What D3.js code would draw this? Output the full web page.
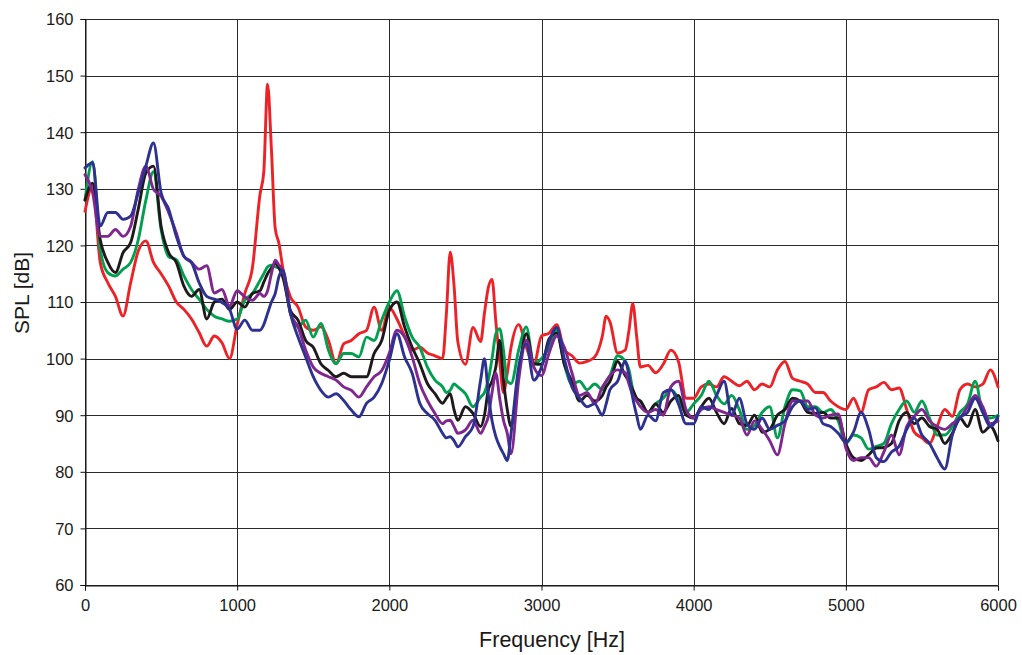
<!DOCTYPE html>
<html>
<head>
<meta charset="utf-8">
<script src="https://cdn.jsdelivr.net/npm/d3@7"></script>
<style>
  html, body { margin: 0; padding: 0; background: #fff; }
  svg { display: block; font-family: "Liberation Sans", Arial, sans-serif; }
</style>
</head>
<body>
<svg id="chart" width="1022" height="655"></svg>
<script>
// Frequencies (Hz), shared by all series
const freqs = [
  0,50,100,150,200,250,300,350,400,450,
  500,550,600,650,700,750,800,850,900,950,
  1000,1050,1100,1150,1175,1200,1225,1250,1275,1300,
  1350,1400,1450,1500,1550,1600,1650,1700,1750,1800,
  1850,1900,1950,2000,2050,2100,2150,2200,2250,2300,
  2350,2375,2400,2425,2450,2500,2550,2600,2625,2650,
  2675,2700,2725,2750,2775,2800,2850,2900,2950,3000,
  3050,3100,3150,3200,3250,3300,3350,3400,3425,3450,
  3500,3550,3575,3600,3625,3650,3700,3750,3800,3850,
  3900,3950,4000,4050,4100,4150,4200,4250,4300,4350,
  4400,4450,4500,4550,4600,4650,4700,4750,4800,4850,
  4900,4950,5000,5050,5100,5150,5200,5250,5300,5350,
  5400,5450,5500,5550,5600,5650,5700,5750,5800,5850,
  5900,5950,6000
];

const redSPL = [
  126,130.5,117,113.4,111,107.5,113.4,119,120.8,117,
  115,112.8,110,108.7,107,104.6,102.2,104,102.8,100,
  106,111.5,116,129,133,148.5,137,123,120.3,116,
  110.9,109.1,105.6,105,105.6,103.2,99.1,102.6,103.2,104.4,
  105,109.1,105,109,107,104,101.5,102,101,100.5,
  100,108,118.8,113,103,99,105.5,103,108,112.5,
  114,106.5,99.7,94,97.4,102,106,102,99,104,
  104.5,106,101.5,100.5,99.2,99.5,100.3,104,107.5,106.5,
  101,101.5,105,109.7,104,98.5,98.8,97.5,99,101.5,
  99.5,93,93,95,95.5,95,96.8,96,95.2,96,
  94.5,95.5,95,98,99.5,96.5,96,95.5,94,94,
  92.5,91.5,91,93,90.5,94.5,95,95.8,94.5,94.8,
  91,87,86,85,88,91,89.8,94.5,95.5,95,
  95.5,98,95
];

const greenSPL = [
  128,134.8,119.3,115.2,114.6,115.8,117,121,128,133,
  122.8,118,117.5,114.6,112.2,110.5,108.7,107.5,107,106.6,
  107,110.3,111.5,113.8,115,116.2,116.5,116.2,116,115,
  108,105.6,106.8,103.8,106.2,101.5,99.1,100.9,100.9,100.3,
  103.8,103.2,106.8,110,112,107.4,103.8,102,98.5,96.2,
  95,94,94.4,95.5,95,93.8,91.5,93.2,94,96.2,
  100,104.4,105.3,101.5,96,95.6,101.5,105.6,99.1,100,
  102,105,99,95.5,96,94.5,95.5,94.5,96,97,
  100.5,99.5,98,94.5,93,92.5,90.5,92,93,94.5,
  93,90.5,92,93.5,96,93.5,92,93.5,91,87.5,
  88.2,90.5,91.5,86,91.5,94.5,94.3,91.5,91.5,90.5,
  91,89,85,86.5,86,84,84.5,85,88.5,91,
  92.5,90.5,92.5,89.5,86.5,86.5,88,90.5,92,96,
  90.5,89.5,90
];

const blackSPL = [
  128,131,121,117,115.2,118.7,120.5,126.4,132.8,134,
  123.4,118.7,117,112.8,111,112.2,107,110,110.5,108.7,
  110,109.1,111.5,112,113.5,115,116,116.8,116,114.4,
  108.5,106.8,103.2,102,99.1,97.9,96.8,97.4,96.8,96.8,
  96.8,100.9,103.2,108.5,110,105.6,102,99.1,95.6,93.8,
  92.1,93,93.8,91,89.1,91.5,90.3,88,90,94.4,
  96,98.5,103.2,96.2,91,88,97.4,104.4,99.1,99,
  103.5,104.5,99,96,92.5,93.5,92.5,93.5,95,96,
  99.5,97,96,94.5,93,92.5,90.5,92,90.5,92.5,
  93.5,90,89.5,91.5,93,90.5,88.5,91.2,88.5,88.2,
  90,87,87.5,90,91,93,92.5,90.5,90.3,90.5,
  89.5,89.5,85,82.5,82,83,84.2,84.3,85,89,
  90.5,88.5,89.5,88,87.5,85,86.8,89.5,88,91,
  87,88,85.5
];

const purpleSPL = [
  132.5,129.3,121.6,121.6,122.8,121.6,123.4,129.9,134,129.9,
  128.7,125.8,122.2,118.1,117,115.8,116.4,111.6,112.2,109.3,
  112,110.9,110.3,111.5,111,112,115,117.4,116.5,115.6,
  108,105.6,101.5,98.5,97.4,96.8,96.2,95,94.4,93.2,
  95,96.8,97.9,101,105,103.8,100.3,95.6,92.6,90.3,
  88.5,89,89.1,88,86.8,87.4,89.1,86.8,88,89.7,
  94,97.4,93,89.1,86.8,83.2,96.2,103.2,98.5,97,
  101,104,102,97.5,93.5,94,92,95,96,97,
  98,97.5,95.5,93.5,92.5,91.5,90.5,91,90,95,
  96,91,89.5,91,91.5,91,90.5,90,89.5,86.5,
  89,87.5,85.5,83,88.5,92.5,92.5,92.5,90,89.5,
  90,90.2,84.2,82,82.5,82.5,81,83.5,86.5,83,
  88,89.8,91,89,88,87.5,88.5,89.5,91.5,93.5,
  91.5,88.5,89
];

const blueSPL = [
  133.7,134.6,123.4,125.8,125.8,124.6,125.2,129.3,134,138.1,
  129.3,126.4,121.6,118.1,117,113.4,111,110.5,109.9,108.7,
  105.2,106.8,105,105,106,108,110,111.5,114.5,115.6,
  108,103.8,100.3,96.8,94.4,93.2,93.8,92.6,90.9,89.7,
  92.1,93.2,95.6,99.7,104.4,100.3,97.4,92.1,90.3,89.1,
  86.8,86,86.2,85.5,84.4,86.2,88,96.2,100,93.8,
  89,86.2,84.5,83.2,82,86.8,98.5,102.6,96.2,98.5,
  103,105.5,100,95,93,91.5,92,90,92,94.5,
  96,99.5,97,93,90,87.5,90,89,94,94.5,
  92,88.5,88.5,91.5,91,93.5,96,90,93,88.5,
  87.5,89.5,87.5,88.2,89,91.5,92.5,91,91.3,88.5,
  88,86.8,85.2,87,90.5,87.5,82.5,81.8,83.5,84.5,
  87.5,89.5,86.5,85,82.5,80.5,86.5,89.5,90.5,93,
  90.5,88,89.8
];

const xTicks = [0,1000,2000,3000,4000,5000,6000];
const yTicks = [60,70,80,90,100,110,120,130,140,150,160];

const seriesList = [
  { name: "red",    color: "#ec2227", values: redSPL },
  { name: "green",  color: "#00a050", values: greenSPL },
  { name: "black",  color: "#1e1a1b", values: blackSPL },
  { name: "purple", color: "#80278f", values: purpleSPL },
  { name: "blue",   color: "#2d3192", values: blueSPL }
];

const svg = d3.select("#chart");
const x = d3.scaleLinear().domain([0, 6000]).range([85, 998]);
const y = d3.scaleLinear().domain([60, 160]).range([585, 19]);

// grid
const grid = svg.append("g");
grid.selectAll("line.h").data(yTicks).join("line")
  .attr("x1", 85).attr("x2", 998)
  .attr("y1", d => Math.round(y(d)) + 0.5).attr("y2", d => Math.round(y(d)) + 0.5)
  .attr("stroke", "#2a2a2a").attr("stroke-width", 1);
grid.selectAll("line.v").data(xTicks).join("line")
  .attr("y1", 19).attr("y2", 585)
  .attr("x1", d => Math.round(x(d)) + 0.5).attr("x2", d => Math.round(x(d)) + 0.5)
  .attr("stroke", "#2a2a2a").attr("stroke-width", 1);

// axes
const yAxis = d3.axisLeft(y).tickValues(yTicks).tickSize(5).tickPadding(7).tickFormat(d3.format("d"));
const xAxis = d3.axisBottom(x).tickValues(xTicks).tickSize(5).tickPadding(9).tickFormat(d3.format("d"));

const gy = svg.append("g").attr("transform", "translate(85.5,0)").call(yAxis);
const gx = svg.append("g").attr("transform", "translate(0,585.5)").call(xAxis);
[gy, gx].forEach(g => {
  g.selectAll("path.domain").attr("stroke", "#111").attr("stroke-width", 1);
  g.selectAll(".tick line").attr("stroke", "#111");
  g.selectAll("text").attr("fill", "#1a1a1a").style("font-size", "16.5px")
    .style("font-family", "'Liberation Sans', Arial, sans-serif");
});
gy.selectAll(".tick text").attr("dy", "0.36em");

// lines
const line = d3.line()
  .x((d, i) => x(freqs[i]))
  .y(d => y(d))
  .curve(d3.curveMonotoneX);

svg.append("g").selectAll("path").data(seriesList).join("path")
  .attr("d", s => line(s.values))
  .attr("fill", "none")
  .attr("stroke", s => s.color)
  .attr("stroke-width", 2.9)
  .attr("stroke-linejoin", "round")
  .attr("stroke-linecap", "round");

// titles
svg.append("text")
  .attr("x", 552).attr("y", 647)
  .attr("text-anchor", "middle")
  .attr("fill", "#1a1a1a")
  .style("font-size", "21.5px")
  .text("Frequency [Hz]");

svg.append("text")
  .attr("transform", "translate(29,293) rotate(-90)")
  .attr("text-anchor", "middle")
  .attr("fill", "#1a1a1a")
  .style("font-size", "21px")
  .text("SPL [dB]");
</script>
</body>
</html>
